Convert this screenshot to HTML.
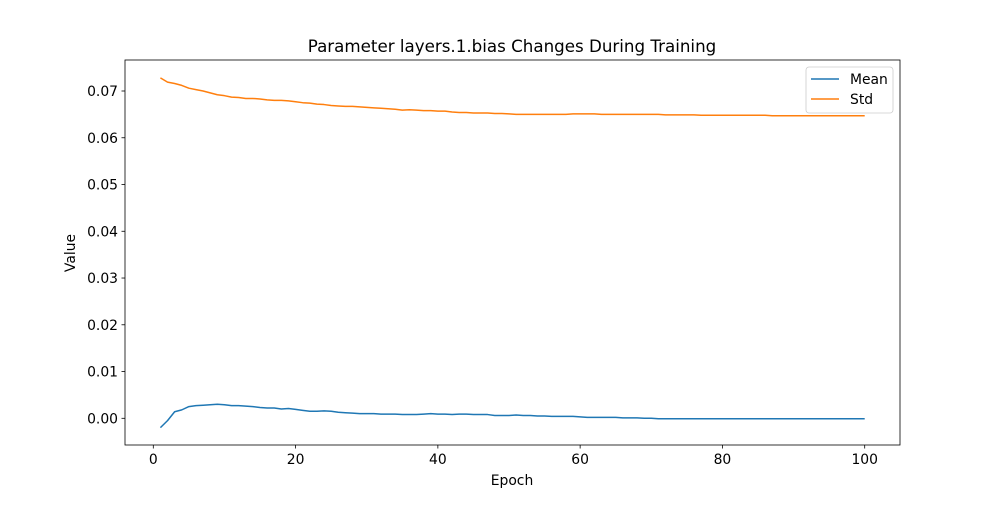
<!DOCTYPE html>
<html><head><meta charset="utf-8"><style>
body{margin:0;background:#fff;font-family:"Liberation Sans","DejaVu Sans",sans-serif;}
svg text{font-family:"DejaVu Sans","Liberation Sans",sans-serif;fill:#000;}
</style></head><body>
<svg id="chart" width="1000" height="500" xmlns="http://www.w3.org/2000/svg">
<rect width="1000" height="500" fill="#fff"/>
<text x="512" y="52" font-size="16.7" text-anchor="middle">Parameter layers.1.bias Changes During Training</text>
<g id="plot"></g>
<rect x="125" y="60" width="775" height="385" fill="none" stroke="#000" stroke-width="0.8"/>
<text x="512" y="485" font-size="13.9" text-anchor="middle">Epoch</text>
<text transform="translate(75,253) rotate(-90)" font-size="13.9" text-anchor="middle">Value</text>
<g>
<rect x="806" y="67" width="87" height="46" rx="3" fill="#fff" fill-opacity="0.8" stroke="#ccc" stroke-width="0.8"/>
<line x1="811" y1="79" x2="839" y2="79" stroke="#1f77b4" stroke-width="1.5"/>
<text x="850" y="84" font-size="13.9">Mean</text>
<line x1="811" y1="99" x2="839" y2="99" stroke="#ff7f0e" stroke-width="1.5"/>
<text x="850" y="104" font-size="13.9">Std</text>
</g>
</svg>
<script>
const xTicks=[0,20,40,60,80,100];
const yTicks=[0,0.01,0.02,0.03,0.04,0.05,0.06,0.07];
const yTickLabels=["0.00","0.01","0.02","0.03","0.04","0.05","0.06","0.07"];
const stdValues=[0.0728,0.0719,0.0716,0.0712,0.0706,0.0703,0.0700,0.0696,0.0692,0.0690,0.0687,0.0686,0.0684,0.0684,0.0683,0.0681,0.0680,0.0680,0.0679,0.0677,0.0675,0.0674,0.0672,0.0671,0.0669,0.0668,0.0667,0.0667,0.0666,0.0665,0.0664,0.0663,0.0662,0.0661,0.0659,0.0660,0.0659,0.0658,0.0658,0.0657,0.0657,0.0655,0.0654,0.0654,0.0653,0.0653,0.0653,0.0652,0.0652,0.0651,0.0650,0.0650,0.0650,0.0650,0.0650,0.0650,0.0650,0.0650,0.0651,0.0651,0.0651,0.0651,0.0650,0.0650,0.0650,0.0650,0.0650,0.0650,0.0650,0.0650,0.0650,0.0649,0.0649,0.0649,0.0649,0.0649,0.0648,0.0648,0.0648,0.0648,0.0648,0.0648,0.0648,0.0648,0.0648,0.0648,0.0647,0.0647,0.0647,0.0647,0.0647,0.0647,0.0647,0.0647,0.0647,0.0647,0.0647,0.0647,0.0647,0.0647];
const meanValues=[-0.0020,-0.0005,0.0014,0.0018,0.0025,0.0027,0.0028,0.0029,0.0030,0.0029,0.0027,0.0027,0.0026,0.0025,0.0023,0.0022,0.0022,0.0020,0.0021,0.0019,0.0017,0.0015,0.0015,0.0016,0.0015,0.0013,0.0012,0.0011,0.0010,0.0010,0.0010,0.0009,0.0009,0.0009,0.0008,0.0008,0.0008,0.0009,0.0010,0.0009,0.0009,0.0008,0.0009,0.0009,0.0008,0.0008,0.0008,0.0006,0.0006,0.0006,0.0007,0.0006,0.0006,0.0005,0.0005,0.0004,0.0004,0.0004,0.0004,0.0003,0.0002,0.0002,0.0002,0.0002,0.0002,0.0001,0.0001,0.0001,0.0000,0.0000,-0.0001,-0.0001,-0.0001,-0.0001,-0.0001,-0.0001,-0.0001,-0.0001,-0.0001,-0.0001,-0.0001,-0.0001,-0.0001,-0.0001,-0.0001,-0.0001,-0.0001,-0.0001,-0.0001,-0.0001,-0.0001,-0.0001,-0.0001,-0.0001,-0.0001,-0.0001,-0.0001,-0.0001,-0.0001,-0.0001];
const NS="http://www.w3.org/2000/svg";
const xs=e=>153.3+e*(864.7-153.3)/100;
const ys=v=>418.3-v*(418.3-91)/0.07;
const g=document.getElementById('plot');
function mk(t,a){const el=document.createElementNS(NS,t);for(const k in a)el.setAttribute(k,a[k]);g.appendChild(el);return el;}
xTicks.forEach(t=>{
  const l=mk('line',{x1:xs(t),x2:xs(t),y1:445,y2:448.5,stroke:'#000','stroke-width':0.8});
  
  
  const tx=mk('text',{x:xs(t),y:464,'font-size':13.9,'text-anchor':'middle'});
  tx.textContent=t;
  
  
});
yTicks.forEach((t,i)=>{
  const l=mk('line',{x1:121.5,x2:125,y1:ys(t),y2:ys(t),stroke:'#000','stroke-width':0.8});
  
  
  const tx=mk('text',{x:118,y:ys(t)+5,'font-size':13.9,'text-anchor':'end'});
  tx.textContent=yTickLabels[i];
  
  
});
function line(vals,color,name){
  const d=vals.map((v,i)=>(i?'L':'M')+xs(i+1).toFixed(2)+','+ys(v).toFixed(2)).join('');
  const p=mk('path',{d:d,fill:'none',stroke:color,'stroke-width':1.5,'stroke-linejoin':'round'});
  
  
}
line(meanValues,'#1f77b4','mean-line');
line(stdValues,'#ff7f0e','std-line');
</script>
</body></html>
